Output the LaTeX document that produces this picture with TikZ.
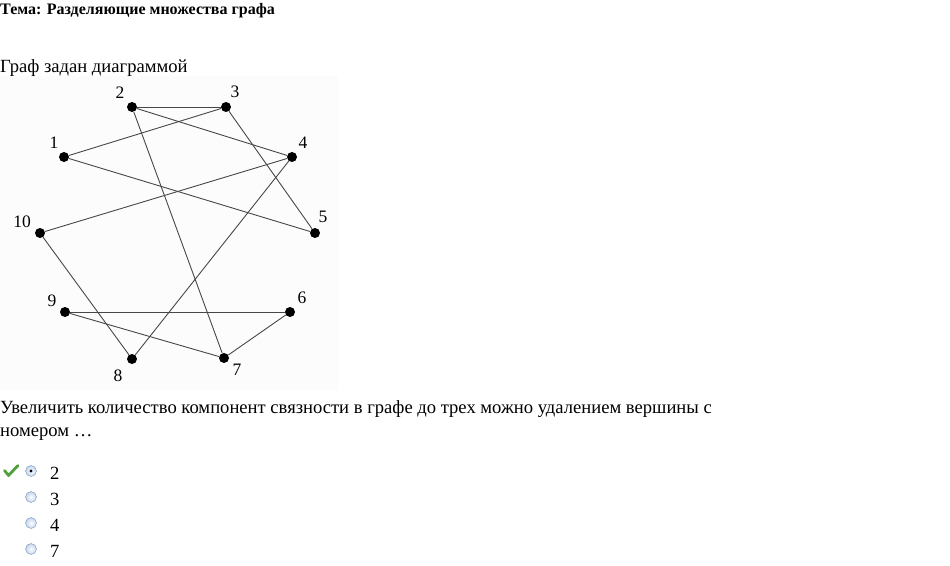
\documentclass[tikz,border=0pt]{standalone}
\usepackage{fontspec}
\setmainfont{Liberation Serif}
\begin{document}
\begin{tikzpicture}[x=1pt,y=-1pt,
  vertex/.style={circle,fill=black,inner sep=0pt,minimum size=10pt},
  vlabel/.style={inner sep=0pt,font=\fontsize{17.5}{19}\selectfont},
  edge/.style={draw=black!72,line width=0.9pt},
  txt/.style={anchor=base west,inner sep=0pt,font=\fontsize{18.6}{21}\selectfont},
  radio/.style={circle,draw={rgb,255:red,120;green,150;blue,190},inner color=white,
    outer color={rgb,255:red,195;green,212;blue,235},minimum size=11pt,inner sep=0pt}]
\useasboundingbox (0,0) rectangle (950,565);

	% Header
\node[anchor=base west,inner sep=0pt,font=\fontsize{16}{18}\selectfont\bfseries] (title) at (0,14) {Тема: Разделяющие множества графа};
\node[txt] (intro) at (0,72) {Граф задан диаграммой};

	% Graph picture
\fill[black!1] (0,76) rectangle (338,390);
\foreach \n/\x/\y/\lx/\ly in {1/64/157/54/143, 2/132/107/120/93, 3/226/107/235/92,
	4/292/157/303/143, 5/315/233/323/217, 6/290/312/302/298, 7/224/358/237/370,
	8/132/359/118/376, 9/65/312/52/301, 10/40/233/22/222} {
	\node[vertex] (v\n) at (\x,\y) {};
	\node[vlabel] (l\n) at (\lx,\ly) {\n};
}
\foreach \a/\b in {2/3, 2/4, 2/7, 3/1, 3/5, 1/5, 4/10, 4/8, 10/8, 9/6, 9/7, 7/6} {
	\draw[edge] (v\a) -- (v\b);
}

	% Question
\node[txt] (q1) at (0,413) {Увеличить количество компонент связности в графе до трех можно удалением вершины с};
\node[txt] (q2) at (0,436) {номером …};

	% Answers
\foreach \val [count=\i] in {2,3,4,7} {
	\node[radio] (r\i) at (31,445+26*\i) {};
	\node[txt] (o\i) at (50,453+26*\i) {\val};
}
\fill (r1) circle (1.6pt);
\draw[line width=2.8pt,color={rgb,255:red,80;green,160;blue,60},line cap=round,line join=round] (4.5,470.5) -- (8.5,475.5) -- (18,465.5);
\end{tikzpicture}
\end{document}
